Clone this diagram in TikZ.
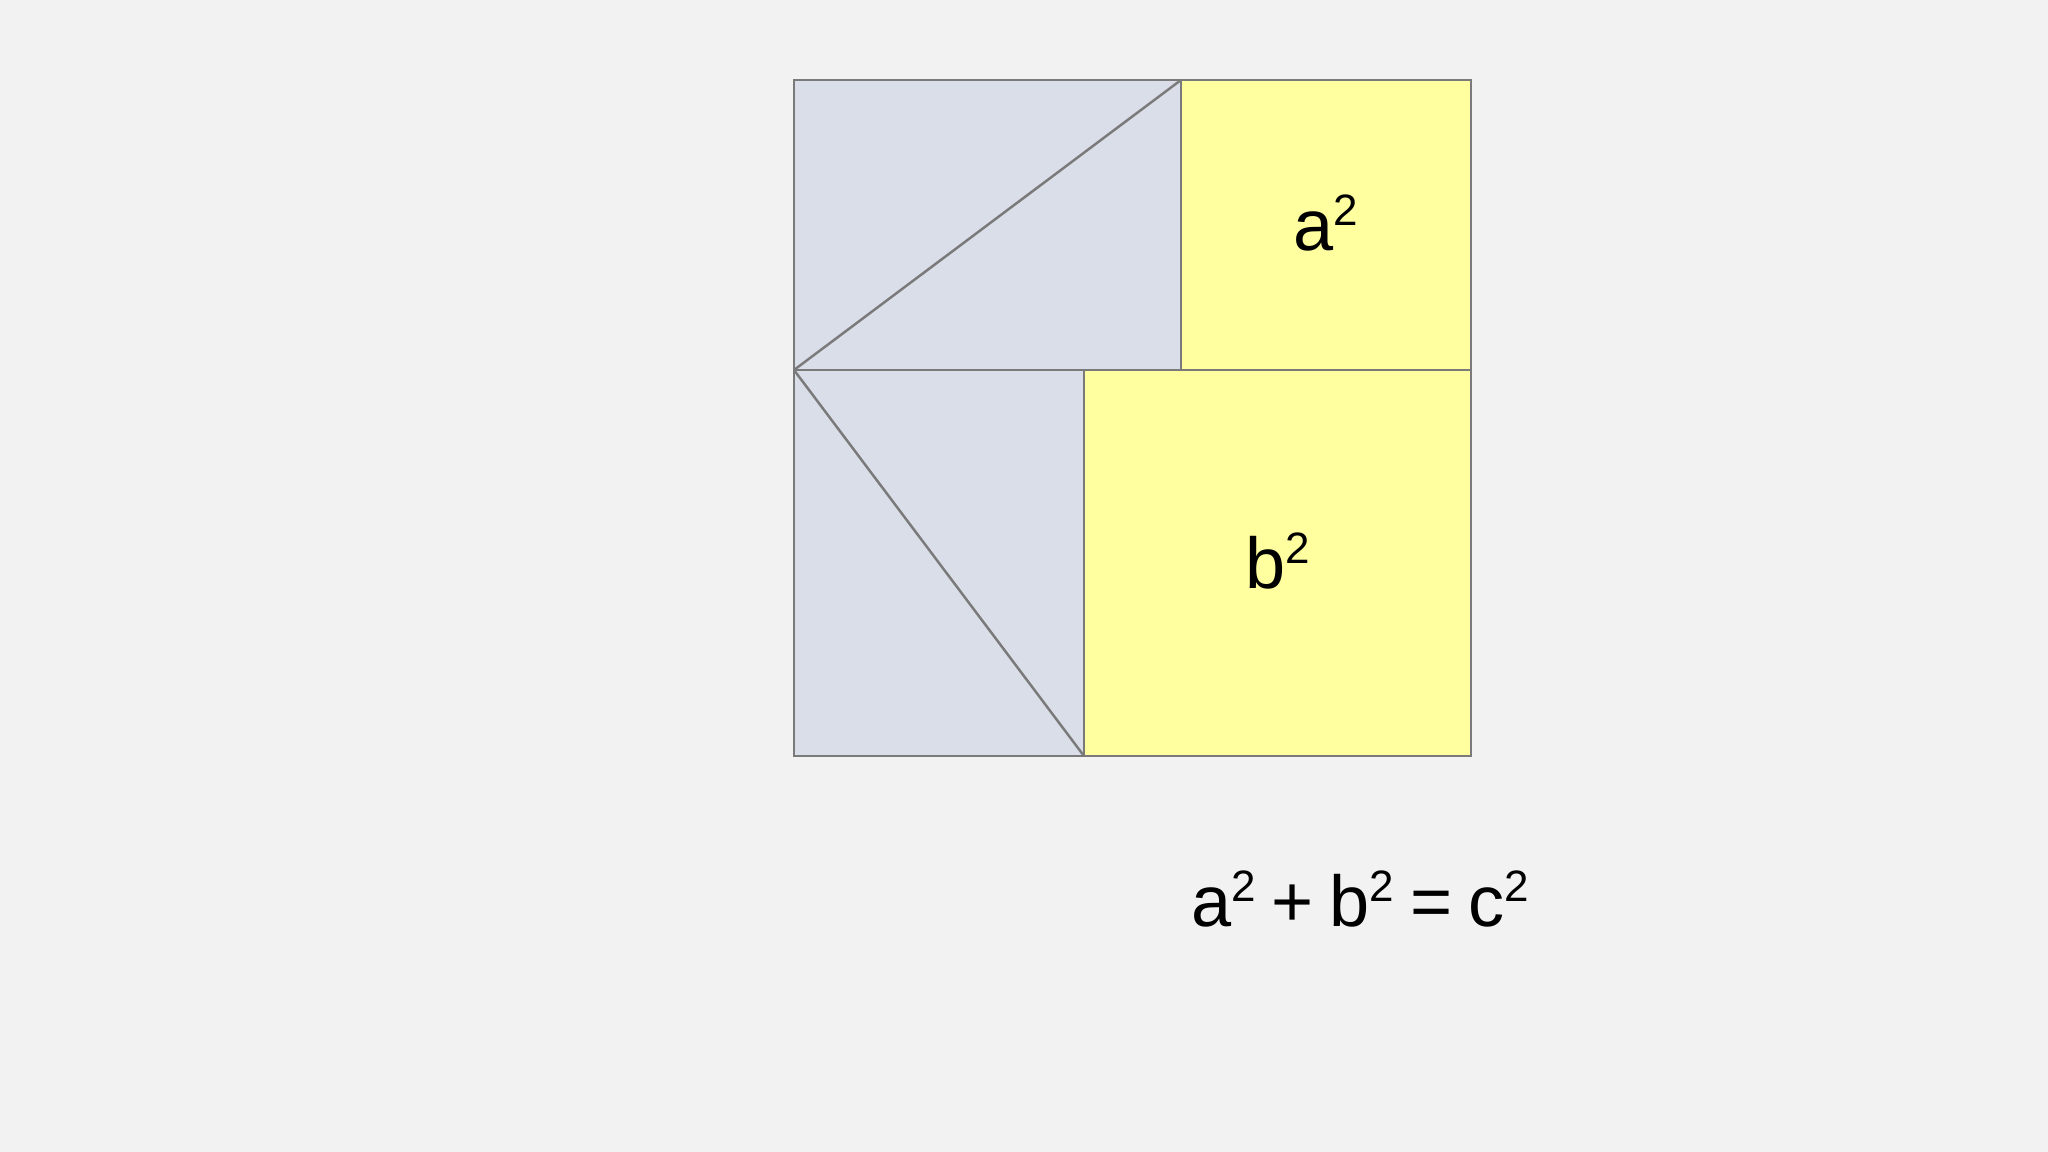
\documentclass[tikz,border=0pt]{standalone}
\usepackage{fontspec}
\setmainfont{Liberation Sans}
\usetikzlibrary{positioning, calc}

\definecolor{pagebg}{HTML}{F2F2F2}
\definecolor{triblue}{HTML}{DADEE9}
\definecolor{sqyellow}{HTML}{FFFF9F}
\definecolor{edgegray}{HTML}{7A7A7A}

% squared letter, superscript set by hand
\newcommand{\sqd}[1]{#1\raisebox{0.34em}{\fontsize{12.5}{12.5}\selectfont 2}}
\newcommand{\gap}{\hspace{0.22em}}

\begin{document}
\begin{tikzpicture}[
    x=0.01cm, y=-0.01cm, % one unit = one pixel of the slide
    piece/.style={draw=edgegray, line width=0.7pt},
    labelstyle/.style={font=\fontsize{20.5}{24}\selectfont, inner sep=0pt}
]

% Background of the slide
\fill[pagebg] (0,0) rectangle (2048,1152);
\useasboundingbox (0,0) rectangle (2048,1152);

% Corners of the big square (side a+b)
\coordinate (tl) at (794,80);
\coordinate (br) at (1471,756);
\coordinate (ml) at (794,370);   % left end of the middle line
\coordinate (mr) at (1471,370);
\coordinate (tcut) at (1181,80); % top split, a^2 to the right
\coordinate (tcut_m) at (1181,370);
\coordinate (bcut_m) at (1084,370); % bottom split, b^2 to the right
\coordinate (bcut) at (1084,756);

% Top row: b x a rectangle cut into two triangles, then a^2
\filldraw[piece, fill=triblue] (tl) rectangle (tcut_m);
\draw[piece] (ml) -- (tcut);
\filldraw[piece, fill=sqyellow] (tcut) rectangle (mr);

% Bottom row: a x b rectangle cut into two triangles, then b^2
\filldraw[piece, fill=triblue] (ml) rectangle (bcut);
\draw[piece] (ml) -- (bcut);
\filldraw[piece, fill=sqyellow] (bcut_m) rectangle (br);

% Labels
\node (asq_label) [labelstyle] at ($(tcut)!0.5!(mr) + (0,-2)$) {\sqd{a}};
\node (bsq_label) [labelstyle] at ($(bcut_m)!0.5!(br) + (0,-2)$) {\sqd{b}};

% Result
\node (pyth_eq) [labelstyle] at (1360,899) {\sqd{a}\gap+\gap\sqd{b}\gap=\gap\sqd{c}};

\end{tikzpicture}
\end{document}
